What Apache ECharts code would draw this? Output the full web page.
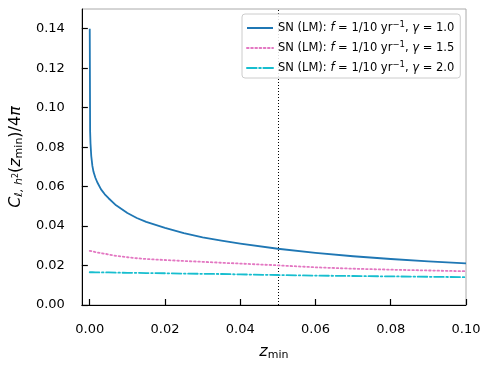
<!DOCTYPE html>
<html>
<head>
<meta charset="utf-8">
<script src="https://cdn.jsdelivr.net/npm/echarts@6/dist/echarts.min.js"></script>
<style>
  html, body { margin: 0; padding: 0; background: #fff; }
  #chart { width: 488px; height: 366px; }
</style>
</head>
<body>
<div id="chart"></div>
<script>
// z_min grid shared by the three curves
const zMin = [0, 0.0001, 0.0002, 0.0004, 0.0007, 0.001, 0.0015, 0.002, 0.003, 0.004, 0.005, 0.007,
  0.01, 0.0125, 0.015, 0.02, 0.025, 0.03, 0.035, 0.04, 0.05, 0.06, 0.07, 0.08, 0.09, 0.1];
const gamma10 = [0.14, 0.088, 0.082, 0.0755, 0.0705, 0.0675, 0.0645, 0.0622, 0.0586, 0.0561, 0.0541, 0.0505,
  0.0466, 0.0441, 0.0421, 0.0391, 0.0364, 0.0343, 0.0326, 0.0311, 0.0285, 0.0264, 0.0247, 0.0233, 0.0221, 0.0211];
const gamma15 = [0.0274, 0.0274, 0.0273, 0.0273, 0.0272, 0.027, 0.0268, 0.0266, 0.0263, 0.026, 0.0256, 0.0249,
  0.0242, 0.0237, 0.0233, 0.0228, 0.0223, 0.0219, 0.0214, 0.021, 0.0201, 0.0191, 0.0184, 0.0179, 0.0175, 0.0171];
const gamma20 = [0.0166, 0.0166, 0.0166, 0.0166, 0.0166, 0.0166, 0.0165, 0.0165, 0.0165, 0.0165, 0.0165, 0.0164,
  0.0163, 0.0163, 0.0162, 0.0161, 0.0159, 0.0158, 0.0157, 0.0155, 0.0152, 0.0149, 0.0147, 0.0145, 0.0143, 0.0141];
const gammaLabels = ['1.0', '1.5', '2.0'];
const xTicks = [0, 0.02, 0.04, 0.06, 0.08, 0.1];
const yTicks = [0, 0.02, 0.04, 0.06, 0.08, 0.1, 0.12, 0.14];
const zCut = 0.05;

const FONT = 'DejaVu Sans';
const pair = (ys) => zMin.map((z, i) => [z, ys[i]]);
const names = gammaLabels.map(g => 'g' + g);

const chart = echarts.init(document.getElementById('chart'), null, { renderer: 'canvas' });

function line(name, ys, color, type, extra) {
  return Object.assign({
    name, type: 'line', data: pair(ys), symbol: 'none', showSymbol: false,
    lineStyle: { color, width: 1.8, type, cap: type === 'solid' ? 'butt' : 'round', join: 'round' },
    itemStyle: { color },
    z: 3,
  }, extra || {});
}

chart.setOption({
  animation: false,
  textStyle: { fontFamily: FONT },
  grid: { left: 79, right: 22, top: 9, bottom: 61, show: true, borderColor: '#aaa', borderWidth: 1 },
  legend: {
    orient: 'vertical', left: 242, top: 14,
    padding: [6, 6, 4, 4],
    itemWidth: 26, itemHeight: 12, itemGap: 6,
    backgroundColor: 'rgba(255,255,255,0.85)', borderColor: '#ccc', borderWidth: 1, borderRadius: 3,
    itemStyle: { opacity: 0 },
    data: names,
    formatter: (n) => {
      const g = n.slice(1);
      return '{t|SN (LM): }{i|f}{t| = 1/10 yr}{s|−1}{t|, }{i|γ}{t| = ' + g + '}';
    },
    textStyle: {
      fontFamily: FONT, fontSize: 11.5, color: '#000',
      rich: {
        t: { fontFamily: FONT, fontSize: 11.5, color: '#000' },
        i: { fontFamily: FONT, fontSize: 11.5, fontStyle: 'italic', color: '#000' },
        s: { fontFamily: FONT, fontSize: 8.5, color: '#000', padding: [0, 0, 7, 0] },
      },
    },
  },
  xAxis: {
    type: 'value', min: -0.0021, max: 0.1,
    name: '{i|z}{s|min}', nameLocation: 'middle', nameGap: 38,
    nameTextStyle: {
      rich: {
        i: { fontFamily: FONT, fontSize: 16, fontStyle: 'italic', color: '#000' },
        s: { fontFamily: FONT, fontSize: 11, color: '#000', padding: [7, 0, 0, 0] },
      },
    },
    axisLine: { show: true, onZero: false, lineStyle: { color: '#000', width: 1 } },
    axisTick: { show: true, inside: true, length: 6, customValues: xTicks, lineStyle: { color: '#000', width: 1.2 } },
    axisLabel: { customValues: xTicks, formatter: v => v.toFixed(2), color: '#000', fontFamily: FONT, fontSize: 13, margin: 18 },
    splitLine: { show: false },
  },
  yAxis: {
    type: 'value', min: 0, max: 0.15,
    name: '{i|C}{si|ℓ, h}{su|2}{t|(}{i|z}{s|min}{t|)/4}{i|π}', nameLocation: 'middle', nameGap: 33, nameRotate: 90,
    nameTextStyle: {
      rich: {
        t: { fontFamily: FONT, fontSize: 16, color: '#000' },
        i: { fontFamily: FONT, fontSize: 16, fontStyle: 'italic', color: '#000' },
        s: { fontFamily: FONT, fontSize: 11, color: '#000', padding: [7, 0, 0, 0] },
        si: { fontFamily: FONT, fontSize: 11, fontStyle: 'italic', color: '#000', padding: [7, 0, 0, 0] },
        su: { fontFamily: FONT, fontSize: 8, color: '#000', padding: [0, 0, 0, 0] },
      },
    },
    axisLine: { show: true, onZero: false, lineStyle: { color: '#000', width: 1 } },
    axisTick: { show: true, inside: true, length: 6, customValues: yTicks, lineStyle: { color: '#000', width: 1.2 } },
    axisLabel: { customValues: yTicks, formatter: v => v.toFixed(2), color: '#000', fontFamily: FONT, fontSize: 13, margin: 17 },
    splitLine: { show: false },
  },
  series: [
    line(names[0], gamma10, '#1f77b4', 'solid', {
      markLine: {
        silent: true, symbol: 'none', label: { show: false },
        lineStyle: { color: '#000', width: 1, type: [1, 2], cap: 'butt' },
        data: [{ xAxis: zCut }],
        z: 1,
      },
    }),
    line(names[1], gamma15, '#e377c2', [1.6, 2.6]),
    line(names[2], gamma20, '#17becf', [9.6, 2.6, 1.6, 2.6]),
  ],
});
</script>
</body>
</html>
